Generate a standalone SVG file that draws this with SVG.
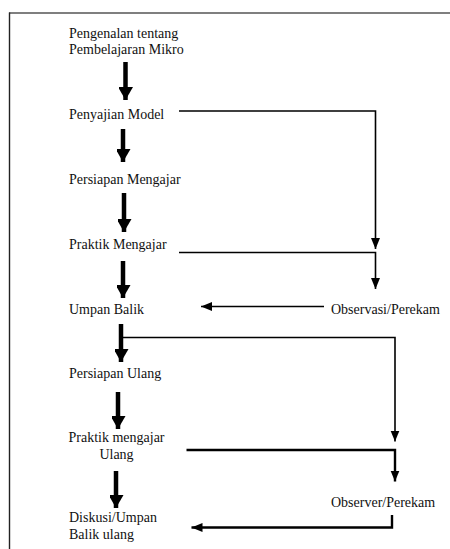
<svg xmlns="http://www.w3.org/2000/svg" width="450" height="549" viewBox="0 0 450 549">
<defs>
<style>
text{font-family:"Liberation Serif","Times New Roman",serif;font-size:14px;fill:#111;}
.thick{stroke:#000;stroke-width:4.5;fill:none;}
.thin{stroke:#000;stroke-width:1.6;fill:none;}
.med{stroke:#000;stroke-width:2.4;fill:none;}
</style>
<marker id="big" markerUnits="userSpaceOnUse" markerWidth="16" markerHeight="14" refX="13" refY="7.5" orient="auto">
<path d="M0,0 L13,7.5 L0,15 Z" fill="#000"/>
</marker>
<marker id="small" markerUnits="userSpaceOnUse" markerWidth="12" markerHeight="10" refX="11" refY="4.5" orient="auto">
<path d="M0,0 L11,4.5 L0,9 Z" fill="#000"/>
</marker>
</defs>
<rect width="450" height="549" fill="#fff"/>
<g id="frame">
<line x1="9" y1="13" x2="450" y2="13" stroke="#555" stroke-width="1.6"/>
<line x1="9.5" y1="12.5" x2="9.5" y2="549" stroke="#222" stroke-width="1.4"/>
</g>
<g id="connectors">
<path class="thick" d="M125.5,62 V100" marker-end="url(#big)"/>
<path class="thick" d="M123,129 V162" marker-end="url(#big)"/>
<path class="thick" d="M124,193 V232" marker-end="url(#big)"/>
<path class="thick" d="M123,261 V298" marker-end="url(#big)"/>
<path class="thick" d="M121,324 V362" marker-end="url(#big)"/>
<path class="thick" d="M118,392 V429" marker-end="url(#big)"/>
<path class="thick" d="M116,471 V508" marker-end="url(#big)"/>
<path class="thin" d="M179,111 H375.5 V249" marker-end="url(#small)"/>
<path class="thin" d="M179,252.5 H375.5 V289" marker-end="url(#small)"/>
<path class="thin" d="M324,306.5 H201" marker-end="url(#small)"/>
<path class="thin" d="M123,337.5 H395 V441.5" marker-end="url(#small)"/>
<path class="med" d="M186.5,450 H395 V481.5" marker-end="url(#small)"/>
<path class="med" d="M392,515 V527.5 H191.5" marker-end="url(#small)"/>
</g>
<g id="n1"><text x="69" y="37.5">Pengenalan tentang</text><text x="69" y="54">Pembelajaran Mikro</text></g>
<g id="n2"><text x="69" y="118.5">Penyajian Model</text></g>
<g id="n3"><text x="69" y="183.5">Persiapan Mengajar</text></g>
<g id="n4"><text x="69" y="248.5">Praktik Mengajar</text></g>
<g id="n5"><text x="69" y="313.5">Umpan Balik</text></g>
<g id="n6"><text x="331" y="313.5">Observasi/Perekam</text></g>
<g id="n7"><text x="69" y="377.5">Persiapan Ulang</text></g>
<g id="n8"><text x="116.5" y="441.5" text-anchor="middle">Praktik mengajar</text><text x="116.5" y="459" text-anchor="middle">Ulang</text></g>
<g id="n9"><text x="331" y="506.5">Observer/Perekam</text></g>
<g id="n10"><text x="69" y="521.5">Diskusi/Umpan</text><text x="69" y="539">Balik ulang</text></g>
</svg>
